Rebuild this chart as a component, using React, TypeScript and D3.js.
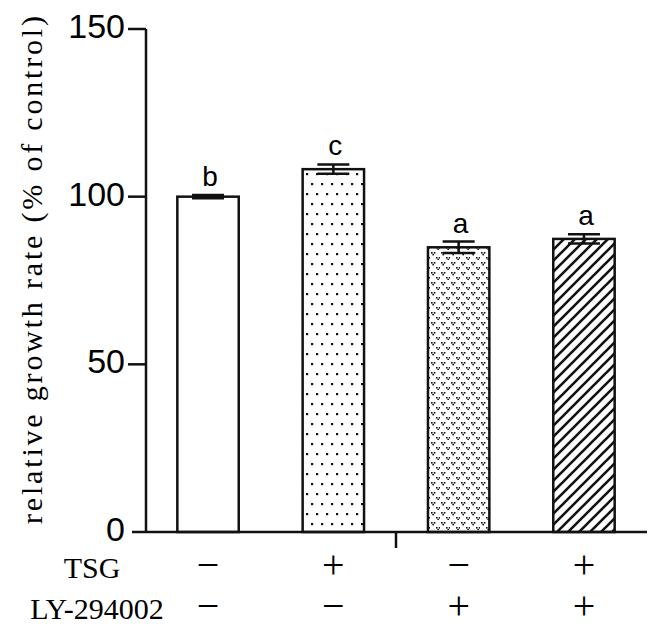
import React, { useEffect, useRef } from 'react';
import * as d3 from 'd3';

const groups = ['control', 'TSG', 'LY-294002', 'TSG+LY-294002'];
const means = [100, 108.2, 84.9, 87.4];
const errors = [0.5, 1.4, 1.7, 1.4];
const letters = ['b', 'c', 'a', 'a'];
const fills = ['white', 'url(#dots)', 'url(#vees)', 'url(#hatch)'];
const tsgSigns = ['\u2212', '+', '\u2212', '+'];
const lySigns = ['\u2212', '\u2212', '+', '+'];
const yTicks = [0, 50, 100, 150];

const App = () => {
  const ref = useRef(null);

  useEffect(() => {
    const width = 664;
    const height = 632;
    const axisLeft = 146;
    const axisRight = 646;
    const y0 = 532;
    const yTop = 29;

    const x = d3.scaleBand().domain(groups).range([axisLeft, axisRight]).paddingInner(0.51).paddingOuter(0.25);
    const y = d3.scaleLinear().domain([0, 150]).range([y0, yTop]);

    const svg = d3.select(ref.current);
    svg.selectAll('*').remove();
    svg.attr('width', width).attr('height', height).attr('viewBox', [0, 0, width, height]);

    // patterns
    const defs = svg.append('defs');
    const dots = defs.append('pattern').attr('id', 'dots').attr('patternUnits', 'userSpaceOnUse')
      .attr('width', 10).attr('height', 20);
    dots.append('rect').attr('width', 10).attr('height', 20).attr('fill', 'white');
    dots.append('rect').attr('x', 1).attr('y', 3).attr('width', 2.2).attr('height', 2.2).attr('fill', '#111');
    dots.append('rect').attr('x', 6).attr('y', 13).attr('width', 2.2).attr('height', 2.2).attr('fill', '#111');

    const vees = defs.append('pattern').attr('id', 'vees').attr('patternUnits', 'userSpaceOnUse')
      .attr('width', 10).attr('height', 10);
    vees.append('rect').attr('width', 10).attr('height', 10).attr('fill', 'white');
    for (const [vx, vy] of [[1, 2], [6, 7]]) {
      vees.append('rect').attr('x', vx).attr('y', vy).attr('width', 1.6).attr('height', 1.6).attr('fill', '#111');
      vees.append('rect').attr('x', vx + 2.8).attr('y', vy).attr('width', 1.6).attr('height', 1.6).attr('fill', '#111');
      vees.append('rect').attr('x', vx + 1.4).attr('y', vy + 1.8).attr('width', 1.6).attr('height', 1.6).attr('fill', '#111');
    }

    const hatch = defs.append('pattern').attr('id', 'hatch').attr('patternUnits', 'userSpaceOnUse')
      .attr('width', 11).attr('height', 11);
    hatch.append('rect').attr('width', 11).attr('height', 11).attr('fill', 'white');
    hatch.append('path').attr('d', 'M-1,1 l2,-2 M0,11 l11,-11 M10,12 l2,-2')
      .attr('stroke', '#111').attr('stroke-width', 2.6);

    // bars
    svg.append('g')
      .selectAll('rect')
      .data(groups)
      .join('rect')
      .attr('x', d => x(d))
      .attr('y', (d, i) => y(means[i]))
      .attr('width', x.bandwidth())
      .attr('height', (d, i) => y(0) - y(means[i]))
      .attr('fill', (d, i) => fills[i])
      .attr('stroke', '#111')
      .attr('stroke-width', 2.5);

    // error bars
    const cap = 16;
    const eb = svg.append('g').attr('stroke', '#111').attr('stroke-width', 2.5);
    groups.forEach((g, i) => {
      const cx = x(g) + x.bandwidth() / 2;
      const hi = y(means[i] + errors[i]);
      const lo = y(means[i] - errors[i]);
      eb.append('line').attr('x1', cx).attr('x2', cx).attr('y1', hi).attr('y2', lo);
      eb.append('line').attr('x1', cx - cap).attr('x2', cx + cap).attr('y1', hi).attr('y2', hi);
      eb.append('line').attr('x1', cx - cap).attr('x2', cx + cap).attr('y1', lo).attr('y2', lo);
    });

    // significance letters
    svg.append('g')
      .attr('font-family', 'Liberation Sans, Arial, sans-serif')
      .attr('font-size', 28)
      .attr('text-anchor', 'middle')
      .selectAll('text')
      .data(groups)
      .join('text')
      .attr('x', d => x(d) + x.bandwidth() / 2 + 2)
      .attr('y', (d, i) => y(means[i] + errors[i]) - 9)
      .text((d, i) => letters[i]);

    // axes
    const axes = svg.append('g').attr('stroke', '#111').attr('stroke-width', 2.5).attr('fill', 'none');
    axes.append('line').attr('x1', axisLeft).attr('x2', axisLeft).attr('y1', yTop).attr('y2', y0);
    axes.append('line').attr('x1', axisLeft - 14).attr('x2', axisRight + 1).attr('y1', y0).attr('y2', y0);
    axes.append('line').attr('x1', (axisLeft + axisRight) / 2).attr('x2', (axisLeft + axisRight) / 2)
      .attr('y1', y0).attr('y2', y0 + 16);
    axes.selectAll('line.tick')
      .data(yTicks.filter(t => t > 0))
      .join('line')
      .attr('class', 'tick')
      .attr('x1', axisLeft - 18).attr('x2', axisLeft)
      .attr('y1', d => y(d)).attr('y2', d => y(d));

    svg.append('g')
      .attr('font-family', 'Liberation Sans, Arial, sans-serif')
      .attr('font-size', 34)
      .attr('text-anchor', 'end')
      .selectAll('text')
      .data(yTicks)
      .join('text')
      .attr('x', 125)
      .attr('y', d => y(d))
      .attr('dy', '0.26em')
      .text(d => d);

    // y label
    svg.append('text')
      .attr('transform', 'translate(42,270) rotate(-90)')
      .attr('font-family', 'Liberation Serif, Times New Roman, serif')
      .attr('font-size', 30)
      .attr('text-anchor', 'middle')
      .attr('textLength', 508)
      .attr('lengthAdjust', 'spacing')
      .text('relative growth rate (% of control)');

    // treatment table
    const rows = [['TSG', tsgSigns, 578, 92], ['LY-294002', lySigns, 619, 97]];
    const tbl = svg.append('g').attr('font-family', 'Liberation Serif, Times New Roman, serif').attr('text-anchor', 'middle');
    for (const [label, signs, by, lx] of rows) {
      tbl.append('text').attr('x', lx).attr('y', by).attr('font-size', 30).text(label);
      tbl.append('g')
        .selectAll('text')
        .data(groups)
        .join('text')
        .attr('x', d => x(d) + x.bandwidth() / 2)
        .attr('y', by)
        .attr('font-size', 40)
        .text((d, i) => signs[i]);
    }
  }, []);

  return <svg ref={ref} style={{ position: 'absolute', left: 0, top: 0, background: 'white' }} />;
};

export default App;
